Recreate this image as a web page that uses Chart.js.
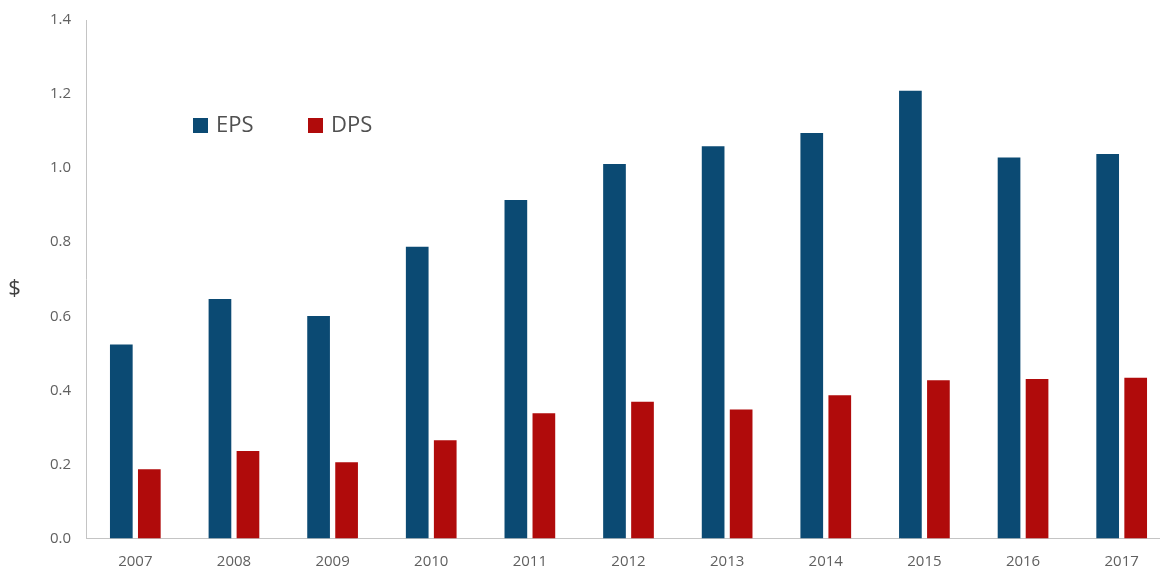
<!DOCTYPE html>
<html>
<head>
<meta charset="utf-8">
<script src="https://cdn.jsdelivr.net/npm/chart.js@4.4.0/dist/chart.umd.min.js"></script>
<style>
  html, body { margin: 0; padding: 0; background: #ffffff; overflow: hidden; width: 1160px; height: 570px; }
  #wrap { position: absolute; left: 0; top: 0; width: 1171px; height: 570px; }
</style>
</head>
<body>
<div id="wrap"><canvas id="c" width="1171" height="570"></canvas></div>
<script>
const years = ['2007','2008','2009','2010','2011','2012','2013','2014','2015','2016','2017'];
const eps = [0.524, 0.647, 0.601, 0.788, 0.914, 1.011, 1.059, 1.095, 1.209, 1.029, 1.038];
const dps = [0.187, 0.236, 0.206, 0.265, 0.338, 0.369, 0.348, 0.387, 0.427, 0.431, 0.434];
const yTicks = [0, 0.2, 0.4, 0.6, 0.8, 1.0, 1.2, 1.4];
const seriesNames = ['EPS', 'DPS'];
const seriesColors = ['#0b4a73', '#b00b0b'];
const yAxisTitle = '$';

const FONT = "'Open Sans', 'DejaVu Sans', sans-serif";

const overlay = {
  id: 'overlay',
  afterDraw(chart) {
    const ctx = chart.ctx;
    ctx.save();
    ctx.fillStyle = '#404040';
    ctx.font = '22px ' + FONT;
    ctx.textAlign = 'center';
    ctx.textBaseline = 'middle';
    ctx.fillText(yAxisTitle, 14.5, 289);
    const xs = [193, 308];
    chart.data.datasets.forEach((ds, i) => {
      ctx.fillStyle = ds.backgroundColor;
      ctx.fillRect(xs[i], 118, 15, 15);
      ctx.fillStyle = '#505050';
      ctx.font = '22px ' + FONT;
      ctx.textAlign = 'left';
      ctx.textBaseline = 'middle';
      ctx.fillText(ds.label, xs[i] + 23, 126);
    });
    ctx.restore();
  }
};

new Chart(document.getElementById('c'), {
  type: 'bar',
  data: {
    labels: years,
    datasets: [
      { label: seriesNames[0], data: eps, backgroundColor: seriesColors[0], categoryPercentage: 0.568, barPercentage: 0.81 },
      { label: seriesNames[1], data: dps, backgroundColor: seriesColors[1], categoryPercentage: 0.568, barPercentage: 0.81 }
    ]
  },
  options: {
    responsive: false,
    animation: false,
    devicePixelRatio: 1,
    layout: { padding: { left: 0, right: 0, top: 20, bottom: 0 } },
    plugins: { legend: { display: false }, tooltip: { enabled: false } },
    scales: {
      x: {
        afterFit(scale) { scale.height = 31.5; },
        grid: { display: false, drawTicks: false },
        border: { display: true, color: '#c4c4c4', width: 1 },
        ticks: { color: '#606060', font: { family: FONT, size: 15 }, padding: 14, maxRotation: 0 }
      },
      y: {
        min: 0, max: 1.4,
        afterFit(scale) { scale.width = 86; scale.paddingTop = 0; scale.paddingBottom = 0; },
        afterBuildTicks(scale) { scale.ticks = yTicks.map(v => ({ value: v })); },
        grid: { display: false, drawTicks: false },
        border: { display: true, color: '#c4c4c4', width: 1 },
        ticks: {
          color: '#606060', font: { family: FONT, size: 15 }, padding: 15,
          callback: v => Number(v).toFixed(1)
        }
      }
    }
  },
  plugins: [overlay]
});
</script>
</body>
</html>
